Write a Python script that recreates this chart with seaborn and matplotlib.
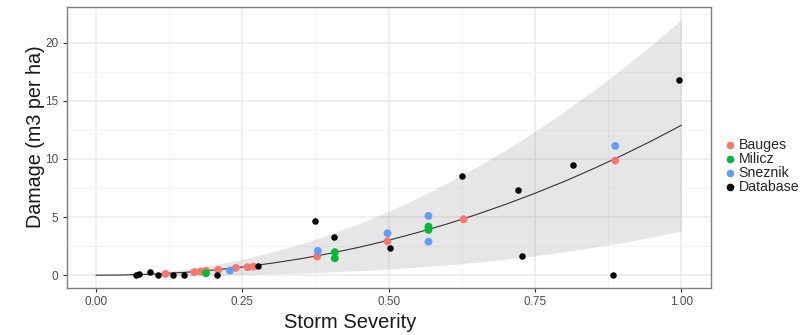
import matplotlib
matplotlib.use("Agg")
import matplotlib.pyplot as plt
import seaborn as sns
import pandas as pd
from matplotlib.ticker import MultipleLocator, FormatStrFormatter
from matplotlib.lines import Line2D

# Observed damage per site: storm severity vs damage (m3 per ha)
bauges_x = [0.119, 0.168, 0.179, 0.188, 0.209, 0.239, 0.259, 0.269, 0.378, 0.498, 0.628, 0.887]
bauges_y = [0.11, 0.26, 0.31, 0.37, 0.46, 0.63, 0.69, 0.74, 1.60, 2.92, 4.81, 9.86]
milicz_x = [0.188, 0.408, 0.408, 0.568, 0.568]
milicz_y = [0.17, 1.98, 1.46, 4.18, 3.90]
sneznik_x = [0.229, 0.379, 0.498, 0.568, 0.568, 0.887]
sneznik_y = [0.40, 2.09, 3.61, 5.10, 2.89, 11.12]
database_x = [0.068, 0.074, 0.093, 0.106, 0.131, 0.150, 0.206, 0.276, 0.375, 0.406,
              0.502, 0.626, 0.721, 0.727, 0.815, 0.884, 0.996]
database_y = [0.0, 0.10, 0.28, 0.0, 0.0, 0.03, 0.0, 0.80, 4.70, 3.27,
              2.32, 8.54, 7.33, 1.66, 9.48, 0.0, 16.8]

# Fitted damage curve with its prediction band
fit_x = [0.00, 0.05, 0.10, 0.15, 0.20, 0.25, 0.30, 0.35, 0.40, 0.45, 0.50,
         0.55, 0.60, 0.65, 0.70, 0.75, 0.80, 0.85, 0.90, 0.95, 1.00]
fit_y = [0.0, 0.024, 0.102, 0.240, 0.439, 0.702, 1.03, 1.42, 1.88, 2.41, 3.01,
         3.68, 4.41, 5.22, 6.10, 7.05, 8.07, 9.17, 10.34, 11.58, 12.9]
fit_lower = [0.0, 0.0007, 0.0054, 0.017, 0.039, 0.073, 0.123, 0.191, 0.279, 0.390, 0.527,
             0.692, 0.886, 1.113, 1.375, 1.674, 2.012, 2.391, 2.814, 3.283, 3.8]
fit_upper = [0.0, 0.055, 0.22, 0.495, 0.88, 1.375, 1.98, 2.695, 3.52, 4.455, 5.5,
             6.655, 7.92, 9.295, 10.78, 12.375, 14.08, 15.895, 17.82, 19.855, 22.0]

site_order = ["Bauges", "Milicz", "Sneznik", "Database"]
site_colors = {"Bauges": "#F8766D", "Milicz": "#00BA38", "Sneznik": "#619CFF", "Database": "#000000"}

points = pd.concat([
    pd.DataFrame({"severity": bauges_x, "damage": bauges_y, "site": "Bauges"}),
    pd.DataFrame({"severity": milicz_x, "damage": milicz_y, "site": "Milicz"}),
    pd.DataFrame({"severity": sneznik_x, "damage": sneznik_y, "site": "Sneznik"}),
    pd.DataFrame({"severity": database_x, "damage": database_y, "site": "Database"}),
], ignore_index=True)
curve = pd.DataFrame({"severity": fit_x, "damage": fit_y, "lo": fit_lower, "hi": fit_upper})

sns.set_theme(style="white")
plt.rcParams["font.family"] = ["Liberation Sans", "DejaVu Sans"]

fig = plt.figure(figsize=(8.11, 3.35), dpi=100)
ax = fig.add_axes([0.0822, 0.1403, 0.7941, 0.8397])

# grid (major + minor) beneath everything
ax.set_axisbelow(True)
ax.xaxis.set_major_locator(MultipleLocator(0.25))
ax.xaxis.set_minor_locator(MultipleLocator(0.125))
ax.yaxis.set_major_locator(MultipleLocator(5))
ax.yaxis.set_minor_locator(MultipleLocator(2.5))
ax.grid(which="major", color="#EBEBEB", linewidth=1.1)
ax.grid(which="minor", color="#F3F3F3", linewidth=0.6)

ax.fill_between(curve["severity"], curve["lo"], curve["hi"], color="#999999",
                alpha=0.24, linewidth=0, zorder=1)
sns.lineplot(data=curve, x="severity", y="damage", color="#333333", linewidth=0.8,
             ax=ax, zorder=2)

colored = points[points["site"] != "Database"]
black = points[points["site"] == "Database"]
sns.scatterplot(data=colored, x="severity", y="damage", hue="site", hue_order=site_order,
                palette=site_colors, s=32, linewidth=0, ax=ax, zorder=3, legend=False)
sns.scatterplot(data=black, x="severity", y="damage", color="#000000",
                s=22, linewidth=0, ax=ax, zorder=4, legend=False)

ax.set_xlim(-0.05, 1.05)
ax.set_ylim(-1.1, 23.1)
ax.xaxis.set_major_formatter(FormatStrFormatter("%.2f"))
ax.yaxis.set_major_formatter(FormatStrFormatter("%d"))

for side in ax.spines.values():
    side.set_visible(True)
    side.set_color("#7F7F7F")
    side.set_linewidth(1.0)
ax.tick_params(which="major", direction="out", length=3, width=0.8, color="#333333",
               labelsize=8.5, labelcolor="#4D4D4D", pad=3, bottom=True, left=True)
ax.tick_params(which="minor", length=0)

ax.set_xlabel("Storm Severity", fontsize=14.5, color="#1A1A1A")
ax.set_ylabel("Damage (m3 per ha)", fontsize=14.2, color="#1A1A1A")
ax.xaxis.set_label_coords(0.44, -0.088)
ax.yaxis.set_label_coords(-0.033, 0.539)

handles = [Line2D([], [], marker="o", linestyle="", markersize=5.5,
                  markerfacecolor=site_colors[s], markeredgewidth=0) for s in site_order]
fig.legend(handles, site_order, loc="center left", bbox_to_anchor=(0.888, 0.503),
           frameon=False, fontsize=10.2, handlelength=0.6, handletextpad=0.3,
           labelspacing=0.0, borderaxespad=0)

fig.savefig("out.png", dpi=100)
